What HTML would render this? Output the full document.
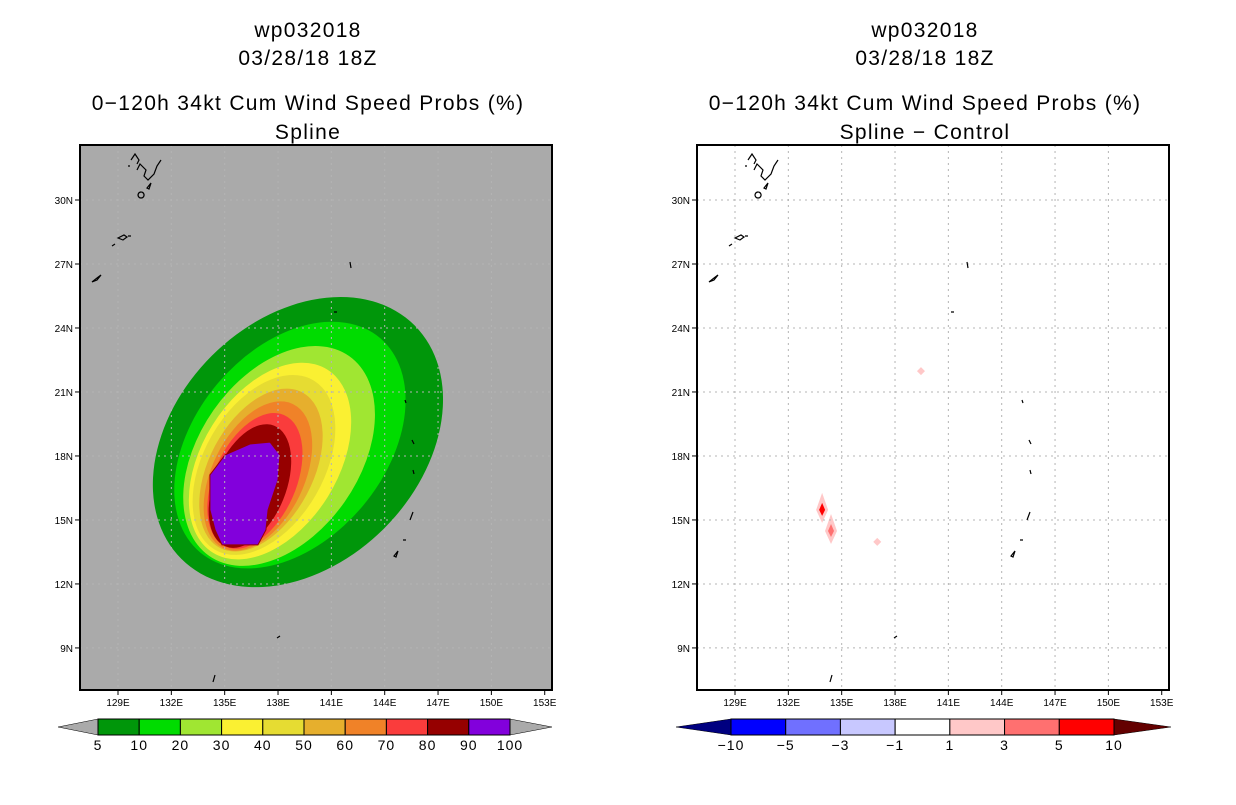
<!DOCTYPE html>
<html><head><meta charset="utf-8"><style>
body{margin:0;background:#fff;width:1236px;height:800px;overflow:hidden}
svg text{font-family:"Liberation Sans",sans-serif;fill:#000}
</style></head><body>
<svg id="s" width="1236" height="800" xmlns="http://www.w3.org/2000/svg"></svg>
<script>
const lonTicks=[129,132,135,138,141,144,147,150,153];
const latTicks=[30,27,24,21,18,15,12,9];
const probLevels=[5,10,20,30,40,50,60,70,80];
const probColors=["#00960a","#00dc00","#a0e632","#faf032","#e6dc32","#e6af2d","#f08228","#fa3c3c","#960000"];
const ellCenterLon=[139.12,138.67,138.06,137.55,137.21,137.04,136.87,136.70,136.42];
const ellCenterLat=[18.65,18.51,18.0,17.76,17.58,17.34,17.06,16.83,16.59];
const ellA=[9.28,7.87,6.86,6.07,5.51,4.95,4.5,4.05,3.66];
const ellB=[6.86,5.34,4.5,3.82,3.37,2.92,2.59,2.31,2.02];
const ellRot=[-45,-50,-55,-58,-60,-62,-64,-66,-68];
const purpleLon=[134.85,136.87,137.32,137.44,138.0,138.11,137.55,136.42,135.02,134.17,134.17,134.46];
const purpleLat=[13.83,13.83,14.53,15.47,16.87,18.05,18.65,18.56,18.05,17.11,15.47,14.53];
const diffLon=[133.9,134.4,137.0,139.46];
const diffLat=[15.47,14.48,13.97,21.98];
const diffVal=[5,3,1,1];
const barLabelsL=["5","10","20","30","40","50","60","70","80","90","100"];
const barColorsL=["#00960a","#00dc00","#a0e632","#faf032","#e6dc32","#e6af2d","#f08228","#fa3c3c","#960000","#8200dc"];
const barLabelsR=["\u221210","\u22125","\u22123","\u22121","1","3","5","10"];
const barColorsR=["#0000ff","#7070ff","#c8c8ff","#ffffff","#ffc8c8","#ff7070","#ff0000"];
const S=document.getElementById('s');const NS="http://www.w3.org/2000/svg";
function mk(t,a,p){const e=document.createElementNS(NS,t);for(const k in a)e.setAttribute(k,a[k]);(p||S).appendChild(e);return e;}
const PX=17.78,PY=21.33;
function panels(ox){return {x:lon=>ox+118+(lon-129)*PX,y:lat=>200+(30-lat)*PY};}
function drawPanel(ox,bg,titles,isDiff){
 const ax=panels(ox);
 const g=mk('g',{});
 
 
 const cx=ox+308;
 [[30,'wp032018'],[58,'03/28/18 18Z'],[103,'0\u2212120h 34kt Cum Wind Speed Probs (%)'],[132,titles]].forEach((t,i)=>{
  const e=mk('text',{x:cx,y:t[0]+7,'text-anchor':'middle','font-size':'21','letter-spacing':'1.3'},g);e.textContent=t[1];
  
  
 });
 mk('rect',{x:ox+80,y:145,width:472,height:545,fill:bg},g);
 const cp='clip'+ox;const c=mk('clipPath',{id:cp},g);mk('rect',{x:ox+80,y:145,width:472,height:545},c);
 const m=mk('g',{'clip-path':'url(#'+cp+')'},g);
 if(!isDiff){
  probLevels.forEach((lv,i)=>{
   const e=mk('ellipse',{cx:ax.x(ellCenterLon[i]),cy:ax.y(ellCenterLat[i]),rx:ellA[i]*PX,ry:ellB[i]*PX,fill:probColors[i],
    transform:`rotate(${ellRot[i]} ${ax.x(ellCenterLon[i])} ${ax.y(ellCenterLat[i])})`},m);
   
   
  });
  const p=mk('polygon',{points:purpleLon.map((l,i)=>ax.x(l)+','+ax.y(purpleLat[i])).join(' '),fill:'#8200dc',stroke:'#960000','stroke-width':1},m);
  
  
 } else {
  diffLon.forEach((l,i)=>{
   const x=ax.x(l),y=ax.y(diffLat[i]);const big=diffVal[i]>=3;
   const r=big?mk('polygon',{points:`${x},${y-17} ${x+6},${y} ${x},${y+13} ${x-6},${y}`,fill:'#ffc8c8'},m):mk('polygon',{points:`${x},${y-4} ${x+4},${y} ${x},${y+4} ${x-4},${y}`,fill:'#ffc8c8'},m);
   
   
   if(big){const q=mk('polygon',{points:`${x},${y-7} ${x+3},${y} ${x},${y+6} ${x-3},${y}`,fill:diffVal[i]>=5?'#ff0000':'#ff7070'},m);
    
    }
  });
 }
 lonTicks.forEach(l=>{if(l<153)mk('line',{x1:ax.x(l),x2:ax.x(l),y1:145,y2:690,stroke:'#b4b4b4','stroke-dasharray':'2,4'},m);});
 latTicks.forEach(l=>mk('line',{x1:ox+80,x2:ox+552,y1:ax.y(l),y2:ax.y(l),stroke:'#b4b4b4','stroke-dasharray':'2,4'},m));
 const coast=["M131,160 l4,-6 l4,6 l-2,4 M137,170 l3,-6 l6,6 l-2,6 l4,4 l6,-6 l3,-8 l4,-6 M147,188 l4,-5 l-2,6 z M141,192 a3,3 0 1 0 0.1,0 M128,166 l2,0","M92,282 l5,-4 l4,-3 l-4,5 z M112,246 l3,-2 M118,238 l6,-3 l3,2 l-4,3 z M128,236 l3,0",
  "M334,312 l3,0 M350,262 l1,6 M405,400 l1,3 M412,440 l2,4 M413,470 l1,4 M410,520 l3,-8 M403,540 l3,0 M394,556 l4,-5 l-2,6 z M277,638 l3,-2 M213,682 l2,-7"];
 coast.forEach(d=>{const e=mk('path',{d:d,fill:'none',stroke:'#000','stroke-width':1.2,transform:`translate(${ox},0)`},m);
  
  });
 const fr=mk('rect',{x:ox+80,y:145,width:472,height:545,fill:'none',stroke:'#000','stroke-width':2},g);
 
 
 lonTicks.forEach(l=>{const x=ax.x(l);mk('line',{x1:x,x2:x,y1:690,y2:695,stroke:'#000'},g);
  const t=mk('text',{x:x,y:706,'text-anchor':'middle','font-size':'10'},g);t.textContent=l+'E';
  
  });
 latTicks.forEach(l=>{const y=ax.y(l);mk('line',{x1:ox+75,x2:ox+80,y1:y,y2:y,stroke:'#000'},g);
  const t=mk('text',{x:ox+73,y:y+4,'text-anchor':'end','font-size':'10'},g);t.textContent=l+'N';
  
  });
}
drawPanel(0,'#aaaaaa','Spline',false);
drawPanel(617,'#ffffff','Spline \u2212 Control',true);
function colorbar(x0,x1,tipL,tipR,cols,labels,lc,rc,name){
 const g=mk('g',{});
 
 
 const w=(x1-x0)/cols.length;
 mk('polygon',{points:`${tipL},727 ${x0},719 ${x0},735`,fill:lc,stroke:'#000','stroke-width':0.5},g);
 mk('polygon',{points:`${tipR},727 ${x1},719 ${x1},735`,fill:rc,stroke:'#000','stroke-width':0.5},g);
 cols.forEach((c,i)=>mk('rect',{x:x0+i*w,y:719,width:w,height:16,fill:c,stroke:'#000','stroke-width':1},g));
 labels.forEach((l,i)=>{const t=mk('text',{x:x0+(i-(labels.length-cols.length-1))*w,y:750,'text-anchor':'middle','font-size':'14','letter-spacing':'1'},g);t.textContent=l;});
}
colorbar(98,510,58,552,barColorsL,barLabelsL,'#aaaaaa','#aaaaaa','prob-colorbar');
colorbar(731,1114,676,1171,barColorsR,barLabelsR,'#000080','#640000','diff-colorbar');
</script>
</body></html>
